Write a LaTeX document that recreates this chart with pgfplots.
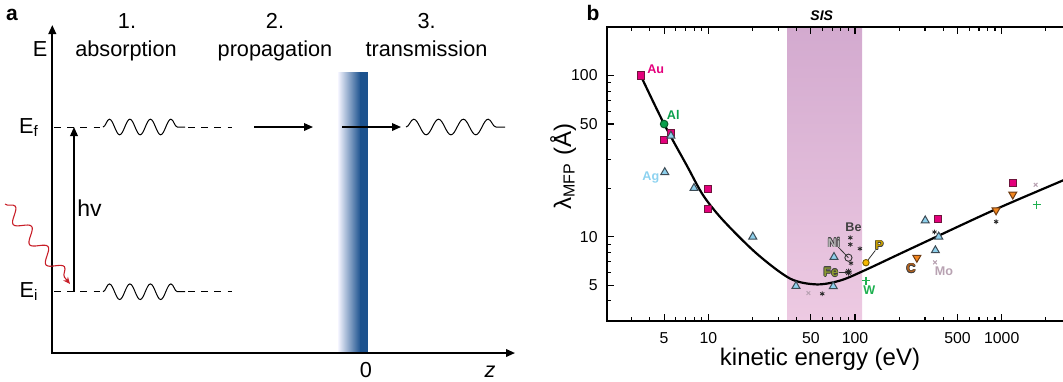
\documentclass[border=0pt]{standalone}
\usepackage{fontspec}
\setmainfont{Liberation Sans}
\usepackage{pgfplots}
\pgfplotsset{compat=1.18}
\usetikzlibrary{arrows.meta,decorations.pathmorphing}

\definecolor{barblue}{RGB}{28,82,142}
\definecolor{sistop}{RGB}{211,170,207}
\definecolor{sisbot}{RGB}{237,202,226}
\definecolor{magsq}{RGB}{228,0,124}
\definecolor{magedge}{RGB}{110,20,60}
\definecolor{tribl}{RGB}{142,208,236}
\definecolor{triedge}{RGB}{60,75,85}
\definecolor{orng}{RGB}{242,134,30}
\definecolor{orngedge}{RGB}{110,60,20}
\definecolor{algreen}{RGB}{10,160,75}
\definecolor{aledge}{RGB}{10,90,40}
\definecolor{wgreen}{RGB}{30,176,80}
\definecolor{mauve}{RGB}{184,162,178}
\definecolor{pyel}{RGB}{245,184,0}
\definecolor{pedge}{RGB}{120,90,0}
\definecolor{agblue}{RGB}{140,210,240}
\definecolor{redwave}{RGB}{200,30,40}
\definecolor{nigrey}{RGB}{185,185,185}
\definecolor{feolive}{RGB}{140,154,48}
\definecolor{pgold}{RGB}{200,160,0}
\definecolor{cbrown}{RGB}{176,96,30}

\newcommand\lblfont{\fontsize{6.3}{7.5}\selectfont\bfseries}
\newcommand\pafont{\fontsize{10.85}{13}\selectfont}
% element label with a thin dark rim
\newcommand\rimlabel[3]{%
  \foreach \ang in {0,45,...,315}{%
    \node[font=\lblfont, text=black!75, xshift={0.3*cos(\ang)*1pt}, yshift={0.3*sin(\ang)*1pt}] at (#1) {#3};}%
  \node[font=\lblfont, text=#2] at (#1) {#3};}
% one energy level: dashes, wave packet, dashes
\newcommand\level[1]{%
  \draw[line width=0.45pt, dash pattern=on 3.3pt off 3.3pt] (54,#1) -- (103,#1);
  \draw[line width=0.45pt, dash pattern=on 3.3pt off 3.3pt] (188,#1) -- (232,#1);
  \draw[line width=0.5pt, decorate, decoration={snake, segment length=10.25pt, amplitude=3.9pt}] (103,#1) -- (185,#1);}

\begin{document}
\begin{tikzpicture}
\useasboundingbox (0,0) rectangle (531.5pt,-190.5pt);

% ---------------- panel a: three-step model ----------------
\begin{axis}[at={(0pt,-190.5pt)}, anchor=south west,
  width=265pt, height=190.5pt, scale only axis,
  xmin=0, xmax=530, ymin=0, ymax=381, y dir=reverse,
  axis lines=none, clip=false]
  % surface barrier
  \shade[left color=blue!4!white, right color=barblue] (338,72) rectangle (360.5,353);
  \fill[barblue] (360,72) rectangle (368,353);
  % E and z axes
  \draw[line width=0.9pt, {Triangle[length=4.5pt,width=3.8pt]}-{Triangle[length=4.5pt,width=3.8pt]}]
    (52.3,25) -- (52.3,353) -- (515,353);
  % final and initial levels
  \level{127}
  \level{291.7}
  % photon
  \draw[redwave, line width=0.55pt, decorate,
    decoration={snake, segment length=13pt, amplitude=3.3pt, post length=4pt},
    -{Stealth[length=3.5pt,width=3pt]}] (5,204) -- (70,284);
  % excitation, propagation, transmission
  \draw[line width=0.8pt, -{Triangle[length=4.5pt,width=3.8pt]}] (74,292) -- (74,127);
  \draw[line width=0.8pt, -{Triangle[length=4.5pt,width=3.8pt]}] (254,127) -- (313,127);
  \draw[line width=0.8pt, -{Triangle[length=4.5pt,width=3.8pt]}] (342,127) -- (401,127);
  \draw[line width=0.5pt, decorate, decoration={snake, segment length=12.4pt, amplitude=3.9pt}] (406,127) -- (505,127);
  % text
  \node[font=\pafont, anchor=base] at (127,28.3) {1.};
  \node[font=\pafont, anchor=base] at (126,56) {absorption};
  \node[font=\pafont, anchor=base] at (275,28.3) {2.};
  \node[font=\pafont, anchor=base] at (275,56) {propagation};
  \node[font=\pafont, anchor=base] at (426.7,28.3) {3.};
  \node[font=\pafont, anchor=base] at (426.5,56) {transmission};
  \node[font=\pafont, anchor=base] at (40,56.7) {E};
  \node[font=\pafont, anchor=base] at (29,133) {E\textsubscript{f}};
  \node[font=\pafont, anchor=base] at (29,297) {E\textsubscript{i}};
  \node[font=\fontsize{11.5}{13}\selectfont, anchor=base west, inner sep=0pt] at (77,216.7) {hv};
  \node[font=\pafont, anchor=base] at (366,377) {0};
  \node[font=\pafont\itshape, anchor=base] at (490,377) {z};
  \node[font=\fontsize{10.5}{12}\selectfont\bfseries, anchor=base] at (12,20) {a};
\end{axis}

% ---------------- panel b: universal curve ----------------
\begin{axis}[at={(303.5pt,-160.5pt)}, anchor=south west,
  width=230pt, height=147pt, scale only axis,
  xmode=log, ymode=log,
  xmin=2.04, xmax=2786, ymin=3, ymax=200,
  xtick={5,10,50,100,500,1000}, xticklabels={5,10,50,100,500,1000},
  minor xtick={3,4,6,7,8,9,20,30,40,60,70,80,90,200,300,400,600,700,800,900,2000},
  ytick={5,10,50,100}, yticklabels={5,10,50,100},
  minor ytick={4,6,7,8,9,20,30,40,60,70,80,90},
  ytick pos=left, xticklabel pos=lower,
  tick align=inside, major tick length=3.6pt, minor tick length=2pt,
  tick style={line width=0.55pt, black},
  axis line style={line width=0.65pt},
  ticklabel style={font=\fontsize{7.9}{9}\selectfont},
  xticklabel style={yshift=-2.2pt},
  yticklabel style={xshift=-1.2pt},
  /pgf/number format/assume math mode=true,
  axis on top]
  % SIS window
  \fill[top color=sistop, bottom color=sisbot] (axis cs:34.6,3) rectangle (axis cs:111.6,200);
  % universal curve
  \addplot[line width=1.1pt, smooth, black] coordinates {
    (3.46,100) (5,50) (7.13,27.7) (9.25,18.0) (12.66,12.6) (21.4,7.85)
    (36.1,5.5) (54.8,5.06) (80,5.36) (118.7,6.24) (200,7.8) (347,9.86)
    (925,14.9) (2786,22.9)};
  % label leaders
  \draw[line width=0.4pt, black!80] (axis cs:76.9,8.62) -- (axis cs:90.2,7.41);
  \draw[line width=0.4pt, black!80] (axis cs:77.3,6.03) -- (axis cs:90.2,6.03);
  \draw[line width=0.4pt, black!80] (axis cs:137.5,8.22) -- (axis cs:118.7,6.90);
  % Au
  \addplot[only marks, mark=square*, mark size=1.8pt,
    mark options={fill=magsq, draw=magedge, line width=0.5pt}] coordinates {
    (3.46,100) (5.55,44.2) (5.0,39.9) (10,19.8) (10,14.9) (368,12.9) (1189,21.6)};
  % Ag
  \addplot[only marks, mark=triangle*, mark size=2.3pt,
    mark options={fill=tribl, draw=triedge, line width=0.5pt}] coordinates {
    (5.56,42.3) (5.05,25.1) (7.99,20.0) (20.1,10) (39.6,4.94) (71.1,4.92)
    (71.9,7.47) (301,12.6) (372,10) (353,8.22)};
  % C
  \addplot[only marks, mark=triangle*, mark size=2.3pt,
    mark options={rotate=180, fill=orng, draw=orngedge, line width=0.5pt}] coordinates {
    (264,7.41) (915,14.6) (1189,18.3)};
  % Al
  \addplot[only marks, mark=*, mark size=1.9pt,
    mark options={fill=algreen, draw=aledge, line width=0.5pt}] coordinates {(5,50)};
  % P
  \addplot[only marks, mark=*, mark size=1.6pt,
    mark options={fill=pyel, draw=pedge, line width=0.45pt}] coordinates {(118.7,6.90)};
  % Ni
  \addplot[only marks, mark=o, mark size=1.8pt,
    mark options={draw=black!80, line width=0.45pt}] coordinates {(90.2,7.41)};
  % Fe
  \addplot[only marks, mark=10-pointed star, mark size=1.8pt,
    mark options={fill=white, draw=black!85, line width=0.4pt}] coordinates {(90.2,6.03)};
  % Be and others
  \addplot[only marks, mark=asterisk, mark size=1.2pt,
    mark options={draw=black!85, line width=0.4pt}] coordinates {
    (59.8,4.43) (92.9,9.86) (92.9,8.96) (108,8.43) (93.9,6.85) (916,12.4) (348,10.7)};
  % W
  \addplot[only marks, mark=+, mark size=2pt,
    mark options={draw=wgreen, line width=0.6pt}] coordinates {(1730,15.8) (118.7,5.35)};
  % Mo
  \addplot[only marks, mark=x, mark size=1.3pt,
    mark options={draw=mauve, line width=0.5pt}] coordinates {(1703,21.0) (351,6.93) (48.1,4.47)};
  % element names
  \node[font=\lblfont, text=magsq] at (axis cs:4.38,108.9) {Au};
  \node[font=\lblfont, text=algreen] at (axis cs:5.77,57.0) {Al};
  \node[font=\lblfont, text=agblue] at (axis cs:4.06,23.2) {Ag};
  \node[font=\lblfont, text=black!75] at (axis cs:97.7,11.47) {Be};
  \node[font=\lblfont, text=wgreen] at (axis cs:125.2,4.64) {W};
  \node[font=\lblfont, text=mauve] at (axis cs:404,6.12) {Mo};
  \coordinate (niL) at (axis cs:71.9,9.18);
  \coordinate (feL) at (axis cs:68.5,6.03);
  \coordinate (pL) at (axis cs:146.4,8.83);
  \coordinate (cL) at (axis cs:241,6.34);
\end{axis}
\rimlabel{niL}{nigrey}{Ni}
\rimlabel{feL}{feolive}{Fe}
\rimlabel{pL}{pgold}{P}
\rimlabel{cL}{cbrown}{C}

\begin{scope}[x=0.5pt, y=-0.5pt]
  \node[font=\fontsize{12}{14}\selectfont, anchor=base] at (820,365) {kinetic energy (eV)};
  \node[font=\fontsize{12}{14}\selectfont, anchor=base, rotate=90] at (571,166.7) {λ\textsubscript{MFP} (Å)};
  \node[font=\fontsize{7}{8}\selectfont\bfseries\itshape] at (821.7,15.8) {SIS};
  \node[font=\fontsize{10.5}{12}\selectfont\bfseries, anchor=base] at (593,20) {b};
\end{scope}
\end{tikzpicture}
\end{document}
